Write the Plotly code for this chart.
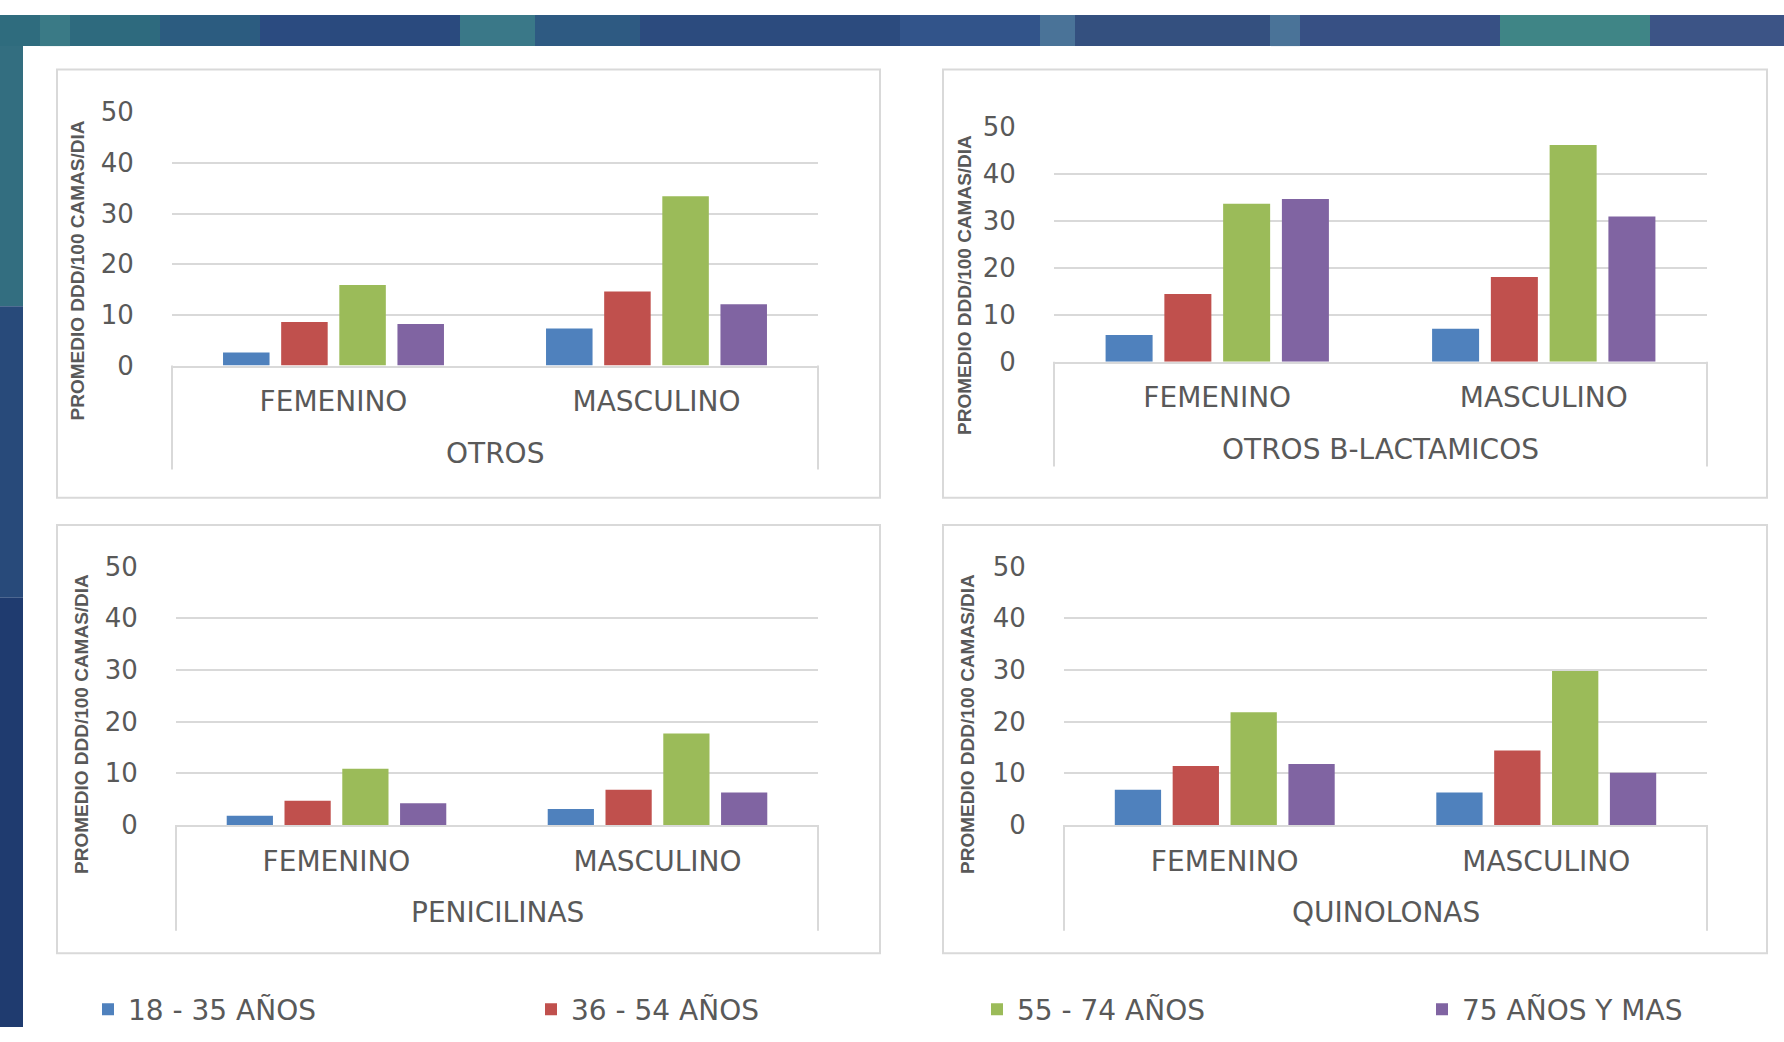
import plotly.graph_objects as go

W, H = 1784, 1042

# ---------------- data ----------------
categories = ["FEMENINO", "MASCULINO"]
series_names = ["18 - 35 AÑOS", "36 - 54 AÑOS", "55 - 74 AÑOS", "75 AÑOS Y MAS"]
series_colors = ["#4F81BD", "#C0504D", "#9BBB59", "#8064A2"]
panel_titles = ["OTROS", "OTROS B-LACTAMICOS", "PENICILINAS", "QUINOLONAS"]
y_axis_title = "PROMEDIO DDD/100 CAMAS/DIA"
y_ticks = [0, 10, 20, 30, 40, 50]

otros_18_35 = [2.6, 7.3]
otros_36_54 = [8.6, 14.6]
otros_55_74 = [15.9, 33.4]
otros_75_mas = [8.2, 12.1]

blact_18_35 = [5.7, 7.0]
blact_36_54 = [14.4, 18.0]
blact_55_74 = [33.6, 46.1]
blact_75_mas = [34.6, 30.9]

penic_18_35 = [1.8, 3.1]
penic_36_54 = [4.7, 6.8]
penic_55_74 = [10.9, 17.7]
penic_75_mas = [4.2, 6.3]

quino_18_35 = [6.8, 6.3]
quino_36_54 = [11.4, 14.4]
quino_55_74 = [21.8, 29.8]
quino_75_mas = [11.8, 10.1]

panel_values = [
    [otros_18_35, otros_36_54, otros_55_74, otros_75_mas],
    [blact_18_35, blact_36_54, blact_55_74, blact_75_mas],
    [penic_18_35, penic_36_54, penic_55_74, penic_75_mas],
    [quino_18_35, quino_36_54, quino_55_74, quino_75_mas],
]

# ---------------- layout geometry (pixels) ----------------
panels = [
    dict(l=172, r=818, t=100, b=361, bb=468, ty=451, yt=(77, 263), fr=(57, 56, 880, 497)),
    dict(l=1054, r=1707, t=115, b=357, bb=465, ty=447, yt=(965, 278), fr=(943, 56, 1767, 497)),
    dict(l=176, r=818, t=568, b=834, bb=943, ty=924, yt=(82, 730), fr=(57, 525, 880, 966)),
    dict(l=1064, r=1707, t=568, b=834, bb=943, ty=924, yt=(968, 730), fr=(943, 525, 1767, 966)),
]
legend_x = [88, 531, 977, 1422]
legend_y = 1024

def px(x):
    return x / W

def py(y):
    return 1 - y / H

TEXT = "#595959"
GRID = "#D9D9D9"
FONT = "DejaVu Sans"

fig = go.Figure()
shapes = []
annotations = []

# background decoration: top band + left strip
band = [
    (0, 40, "#2F6C7E"), (40, 70, "#3A7A86"), (70, 160, "#2E6A7E"), (160, 260, "#2C5C80"),
    (260, 330, "#2B4B80"), (330, 460, "#2A4A7E"), (460, 535, "#3A7888"), (535, 640, "#2E5A82"),
    (640, 900, "#2C4B7E"), (900, 1040, "#32548A"), (1040, 1075, "#4A7398"), (1075, 1270, "#34507F"),
    (1270, 1300, "#4A7398"), (1300, 1500, "#375084"), (1500, 1650, "#3F8586"), (1650, 1784, "#3C5486"),
]
for x0, x1, c in band:
    shapes.append(dict(type="rect", xref="paper", yref="paper", x0=px(x0), x1=px(x1),
                       y0=py(32), y1=1, fillcolor=c, line=dict(width=0), layer="below"))
strip = [(32, 300, "#336E80"), (300, 600, "#284A7A"), (600, 1042, "#1F3B6F")]
for y0, y1, c in strip:
    shapes.append(dict(type="rect", xref="paper", yref="paper", x0=0, x1=px(23),
                       y0=py(y1), y1=py(y0), fillcolor=c, line=dict(width=0), layer="below"))

legend_keys = ["legend", "legend2", "legend3", "legend4"]

for i, (p, vals, title) in enumerate(zip(panels, panel_values, panel_titles)):
    n = "" if i == 0 else str(i + 1)
    xa, ya = "x" + n, "y" + n
    for s in range(4):
        fig.add_trace(go.Bar(
            x=categories, y=vals[s], name=series_names[s],
            marker=dict(color=series_colors[s], line=dict(width=0)),
            xaxis=xa, yaxis=ya, legendgroup=series_names[s], showlegend=(i == 0),
            legend=legend_keys[s], hoverinfo="x+y+name",
        ))
    fig.layout["xaxis" + n] = dict(
        domain=[px(p["l"]), px(p["r"])], anchor=ya, type="category",
        showline=True, linecolor=GRID, linewidth=2, showgrid=False,
        ticks="outside", ticklen=10, tickcolor="rgba(0,0,0,0)",
        tickfont=dict(family=FONT, size=28, color=TEXT), fixedrange=True,
    )
    fig.layout["yaxis" + n] = dict(
        domain=[py(p["b"]), py(p["t"])], anchor=xa, range=[0, 50],
        tickvals=y_ticks, showgrid=True, gridcolor=GRID, gridwidth=2,
        zeroline=False, showline=False,
        ticks="outside", ticklen=32, tickcolor="rgba(0,0,0,0)",
        tickfont=dict(family=FONT, size=26, color=TEXT), fixedrange=True,
    )
    fx0, fy0, fx1, fy1 = p["fr"]
    shapes.append(dict(type="rect", xref="paper", yref="paper", x0=px(fx0), x1=px(fx1),
                       y0=py(fy1), y1=py(fy0), line=dict(color=GRID, width=2), fillcolor="white",
                       layer="below"))
    for xx in (p["l"], p["r"]):
        shapes.append(dict(type="line", xref="paper", yref="paper", x0=px(xx), x1=px(xx),
                           y0=py(p["b"]), y1=py(p["bb"]), line=dict(color=GRID, width=2)))
    annotations.append(dict(text=title, x=px((p["l"] + p["r"]) / 2), y=py(p["ty"]),
                            xref="paper", yref="paper", showarrow=False,
                            xanchor="center", yanchor="middle",
                            font=dict(family=FONT, size=28, color=TEXT)))
    annotations.append(dict(text="<b>" + y_axis_title + "</b>", x=px(p["yt"][0]), y=py(p["yt"][1]),
                            xref="paper", yref="paper", showarrow=False, textangle=-90,
                            xanchor="center", yanchor="middle",
                            font=dict(family="Liberation Sans", size=19, color=TEXT)))

legend_common = dict(orientation="h", xanchor="left", yanchor="middle",
                     font=dict(family=FONT, size=28, color=TEXT), bgcolor="rgba(0,0,0,0)")
layout_legends = {}
for k, lx in zip(legend_keys, legend_x):
    layout_legends[k] = dict(legend_common, x=px(lx), y=py(legend_y))

fig.update_layout(
    width=W, height=H, margin=dict(l=0, r=0, t=0, b=0),
    paper_bgcolor="white", plot_bgcolor="rgba(0,0,0,0)",
    barmode="group", bargap=0.28, bargroupgap=0.2,
    shapes=shapes, annotations=annotations,
    **layout_legends,
)

page_css = (
    "var s=document.createElement('style');"
    "s.textContent='html,body{margin:0!important;padding:0!important;overflow:hidden;}"
    "body>div{margin:0;padding:0;line-height:0;font-size:0;}';"
    "document.head.appendChild(s);window.scrollTo(0,0);"
)
fig.write_html("out.html", config={"displayModeBar": False}, post_script=page_css)
